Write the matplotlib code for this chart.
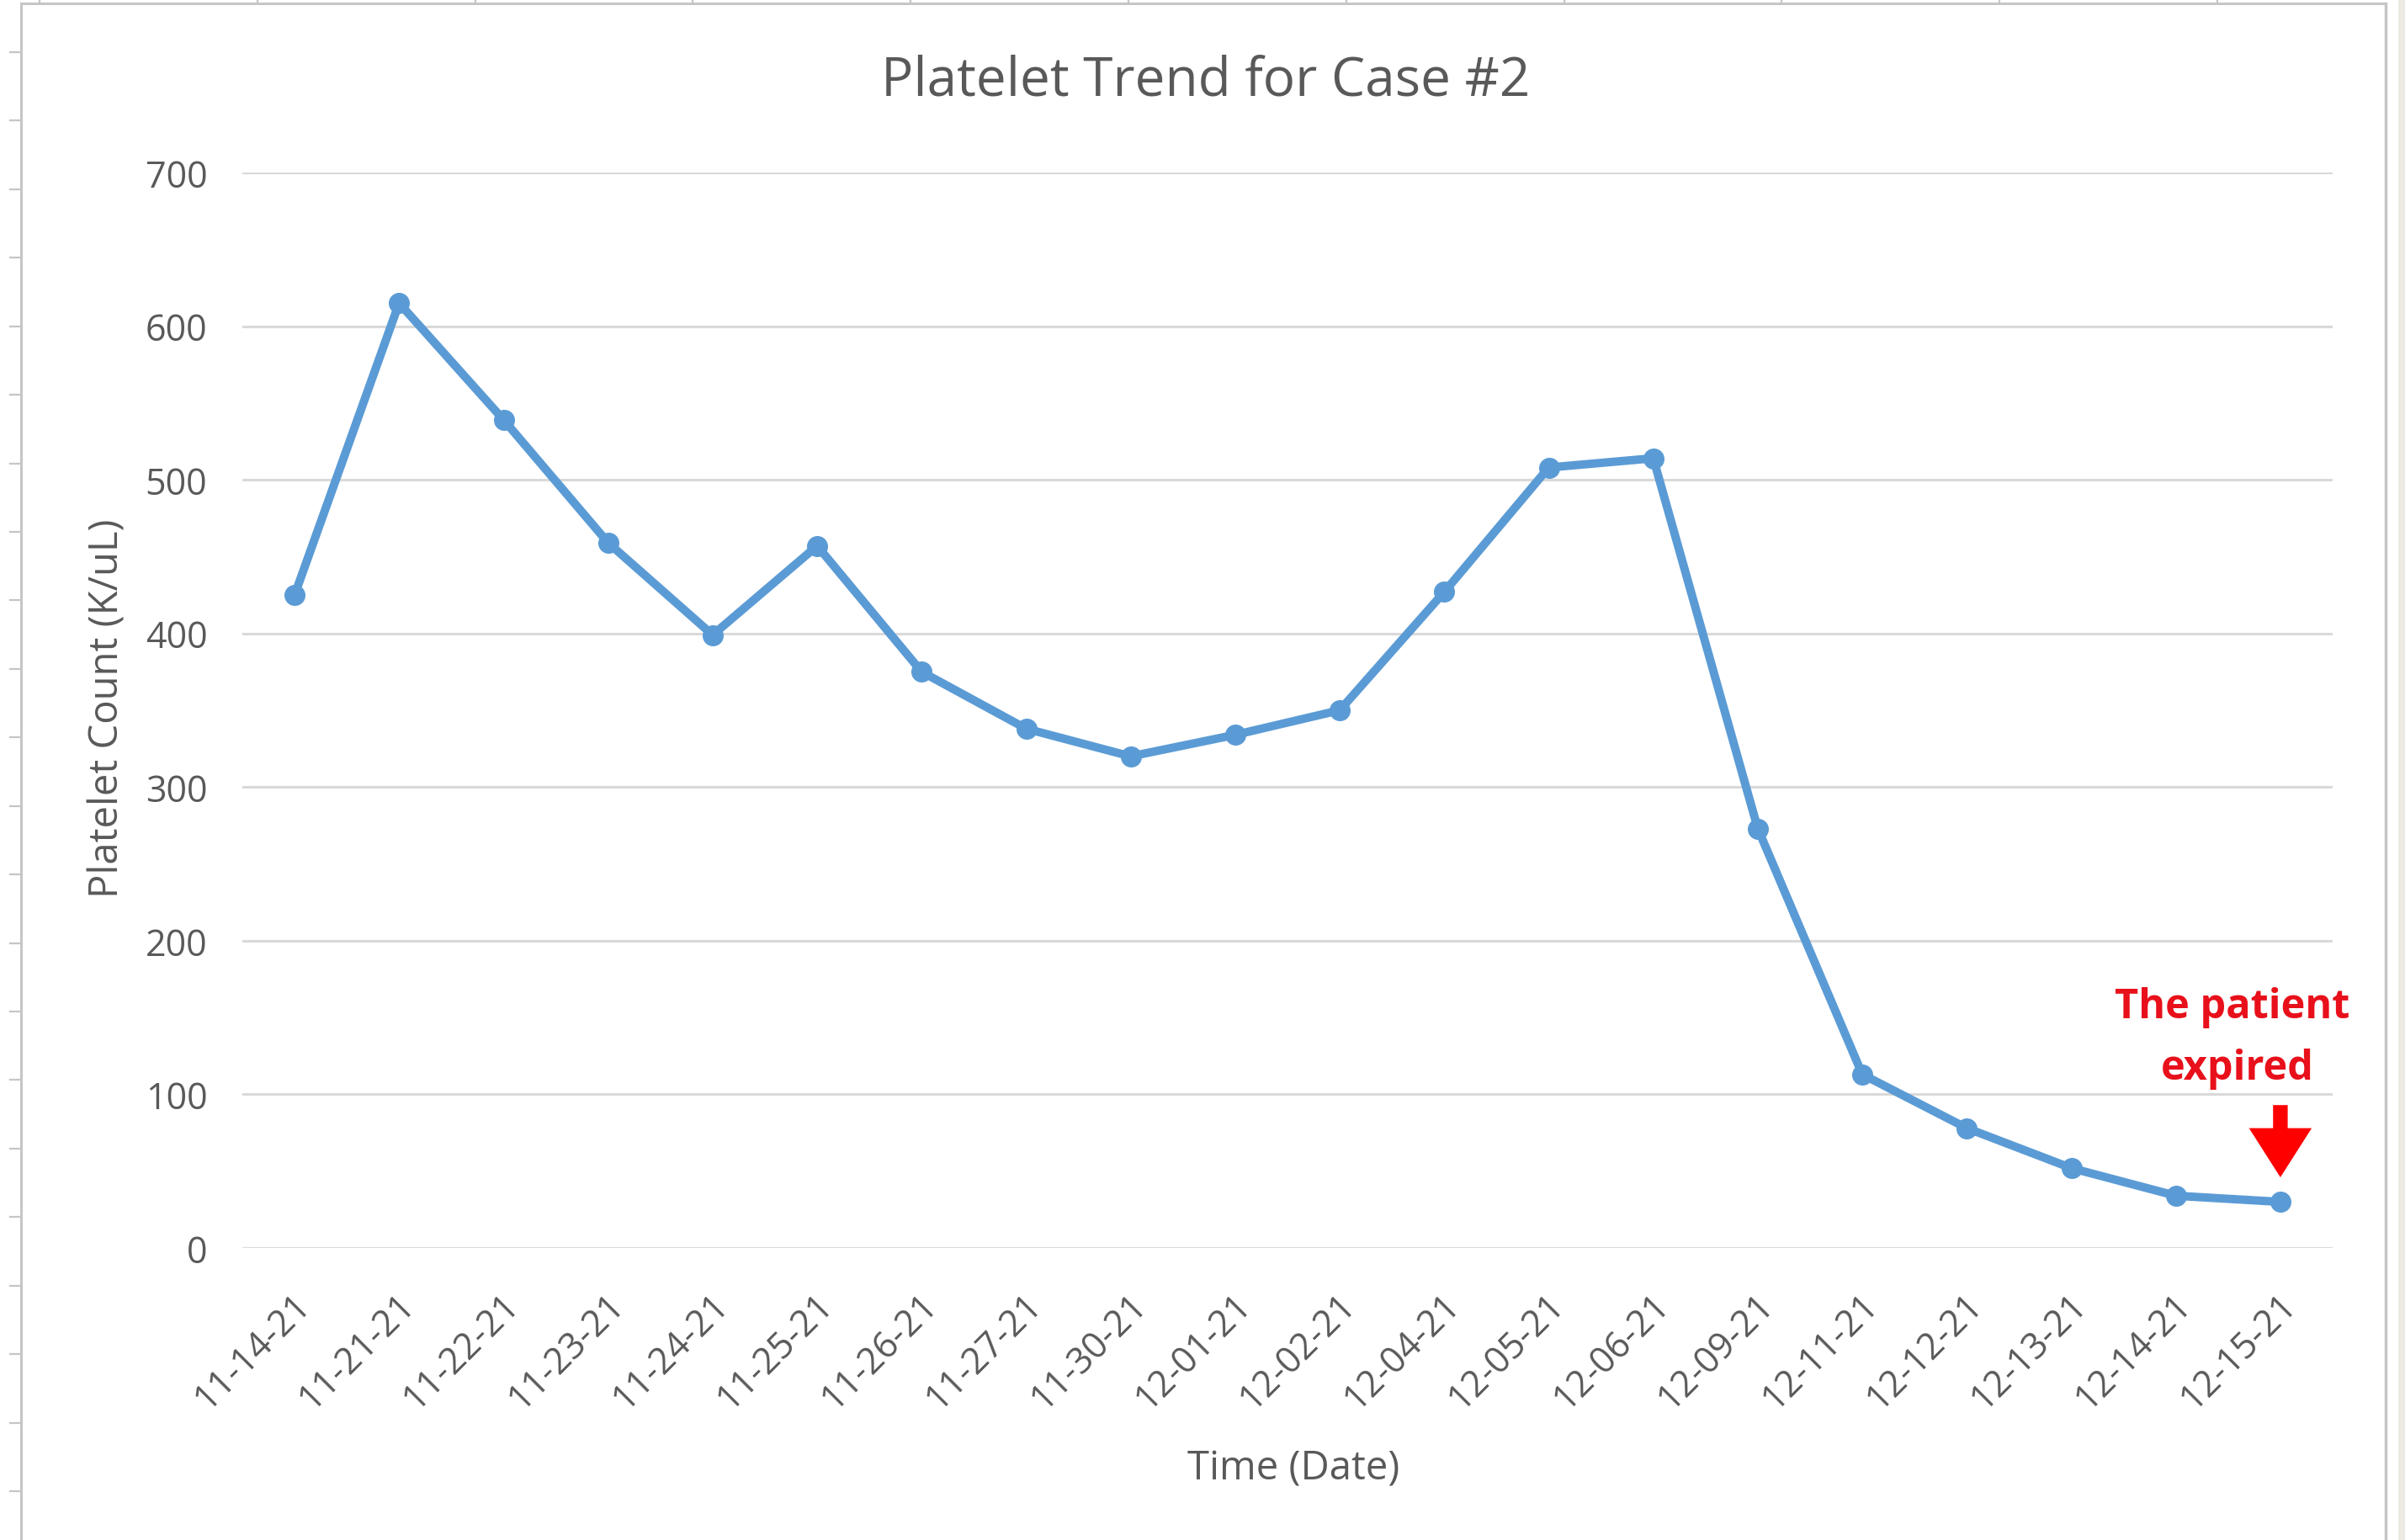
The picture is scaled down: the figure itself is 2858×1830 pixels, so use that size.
import matplotlib
matplotlib.use("Agg")
import matplotlib.pyplot as plt
from matplotlib.lines import Line2D
from matplotlib.patches import Rectangle, FancyArrow
from matplotlib.transforms import ScaledTranslation

plt.rcParams['font.family'] = ['Open Sans', 'DejaVu Sans']

# ---- data ----
dates = ["11-14-21", "11-21-21", "11-22-21", "11-23-21", "11-24-21", "11-25-21",
         "11-26-21", "11-27-21", "11-30-21", "12-01-21", "12-02-21", "12-04-21",
         "12-05-21", "12-06-21", "12-09-21", "12-11-21", "12-12-21", "12-13-21",
         "12-14-21", "12-15-21"]
platelets = [425, 615, 539, 459, 399, 457, 375, 338, 320, 334, 350, 427,
             508, 514, 273, 113, 78, 52, 34, 30]
y_ticks = [0, 100, 200, 300, 400, 500, 600, 700]

W, H = 2858, 1831
DPI = 100
fig = plt.figure(figsize=(W / DPI, H / DPI), dpi=DPI, facecolor="white")

def fx(px):
    return px / W

def fy(py):
    return 1 - py / H

# spreadsheet frame around the chart object
frame_c = "#C6C6C6"
fig.add_artist(Line2D([fx(25), fx(25)], [fy(5), fy(H)], color=frame_c, lw=2.2))
fig.add_artist(Line2D([fx(25), fx(2835)], [fy(5), fy(5)], color=frame_c, lw=2.2))
fig.add_artist(Line2D([fx(2835), fx(2835)], [fy(5), fy(H)], color=frame_c, lw=2.5))
for k in range(22):
    yy = 63 + 81.43 * k
    fig.add_artist(Line2D([fx(12), fx(25)], [fy(yy), fy(yy)], color=frame_c, lw=1.6))
for k in range(11):
    xx = 47 + 258.8 * k
    fig.add_artist(Line2D([fx(xx), fx(xx)], [fy(0), fy(5)], color=frame_c, lw=1.6))
fig.add_artist(Rectangle((fx(2850), 0), fx(W) - fx(2850), 1, transform=fig.transFigure,
                         facecolor="#ECEAE2", edgecolor="none"))

# ---- plot area ----
left, right, y0, y700 = 288, 2772, 1484, 206
ax = fig.add_axes([fx(left), fy(y0), (right - left) / W, (y0 - y700) / H])
ax.set_facecolor("none")

x = list(range(len(dates)))
ax.plot(x, platelets, color="#5B9BD5", lw=7.2, marker="o", ms=17,
        solid_joinstyle="round", zorder=3)

ax.set_xlim(-0.5, len(dates) - 0.5)
ax.set_ylim(0, 700)
ax.set_yticks(y_ticks)
ax.set_yticklabels([str(v) for v in y_ticks])
ax.grid(axis="y", color="#D9D9D9", lw=2.2)
ax.set_axisbelow(True)
for s in ax.spines.values():
    s.set_visible(False)

ax.tick_params(axis="y", length=0, pad=30, labelsize=31, labelcolor="#595959")
ax.tick_params(axis="x", length=0, pad=44, labelsize=31, labelcolor="#595959")
ax.set_xticks(x)
ax.set_xticklabels(dates, rotation=45, ha="right", va="center",
                   rotation_mode="anchor")
shift = ScaledTranslation(12 / DPI, 0, fig.dpi_scale_trans)
for lbl in ax.get_xticklabels():
    lbl.set_transform(lbl.get_transform() + shift)

ax.set_xlabel("Time (Date)", fontsize=34, color="#595959")
ax.xaxis.set_label_coords((1537 - left) / (right - left), (y0 - 1746) / (y0 - y700))
ax.xaxis.label.set_va("center")
ax.set_ylabel("Platelet Count (K/uL)", fontsize=34, color="#595959")
ax.yaxis.set_label_coords((128 - left) / (right - left), (y0 - 842) / (y0 - y700))
ax.yaxis.label.set_va("center")

fig.text(fx(1433), fy(97), "Platelet Trend for Case #2", ha="center", va="center",
         fontsize=46, color="#595959")

# annotation for the final measurement
last_x, last_y = x[-1], platelets[-1]
ax.text(last_x - 0.46, last_y + 127, "The patient", ha="center", va="center",
        fontsize=35, fontweight="bold", color="#E8101A")
ax.text(last_x - 0.41, last_y + 87, "expired", ha="center", va="center",
        fontsize=35, fontweight="bold", color="#E8101A")
ax.add_patch(FancyArrow(last_x, last_y + 63, 0, -47, width=0.14, head_width=0.6,
                        head_length=32, length_includes_head=True,
                        color="#FF0000", lw=0, zorder=4))

fig.savefig("out.png", dpi=DPI, facecolor="white")
